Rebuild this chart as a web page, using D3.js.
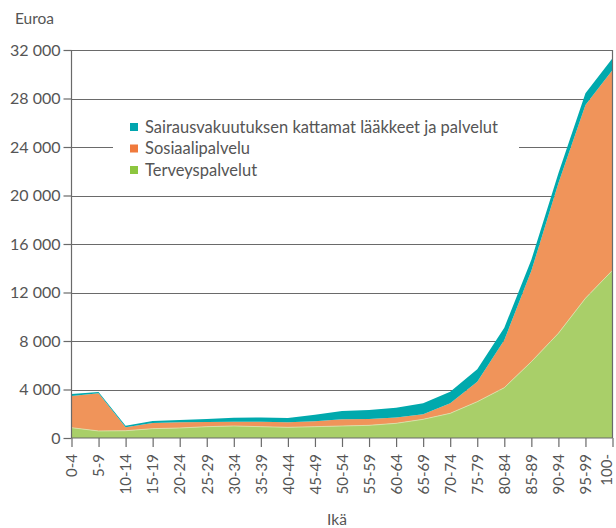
<!DOCTYPE html>
<html><head><meta charset="utf-8">
<script src="https://cdn.jsdelivr.net/npm/d3@7"></script>
<style>body{margin:0;background:#fff}svg{display:block}text{font-family:Lato,"Open Sans",sans-serif;fill:#555}</style>
</head><body><svg id="c" width="616" height="528"></svg>
<script>
const categories = ["0-4","5-9","10-14","15-19","20-24","25-29","30-34","35-39","40-44","45-49","50-54","55-59","60-64","65-69","70-74","75-79","80-84","85-89","90-94","95-99","100-"];
const terveys = [850,580,600,770,825,935,990,935,880,935,990,1045,1210,1540,2035,2995,4150,6295,8635,11525,13830];
const sosiaali = [2615,3110,280,470,465,385,360,415,410,440,550,525,490,410,825,1650,3935,7500,12375,15945,16530];
const sairaus = [165,105,135,160,195,250,330,350,360,550,690,740,800,910,960,1020,1015,900,825,970,965];
const yTicks = [0,4000,8000,12000,16000,20000,24000,28000,32000];
const seriesNames = ["Terveyspalvelut","Sosiaalipalvelu","Sairausvakuutuksen kattamat lääkkeet ja palvelut"];
const areaColors = ["#a9cf69","#f0945a","#00a9ad"];
const legendColors = ["#8dc63f","#f07a3c","#00a5ae"];

const svg = d3.select("#c");
const L=71.5, R=612.5, T=50, B=438;
const x = d3.scalePoint().domain(categories).range([L,R]);
const y = d3.scaleLinear().domain([0,32000]).range([B,T]);

// gridlines
svg.append("g").selectAll("line").data(yTicks.slice(1)).join("line")
  .attr("x1",L).attr("x2",R).attr("y1",d=>Math.round(y(d))+0.5).attr("y2",d=>Math.round(y(d))+0.5)
  .attr("stroke","#6a6a6a").attr("stroke-width",1.2);

const rows = categories.map((c,i)=>({cat:c, t:terveys[i], s:sosiaali[i], k:sairaus[i]}));
const stack = d3.stack().keys(["t","s","k"])(rows);
const area = d3.area().x(d=>x(d.data.cat)).y0(d=>y(d[0])).y1(d=>y(d[1]));
svg.append("g").selectAll("path").data(stack).join("path")
  .attr("d",area).attr("fill",(d,i)=>areaColors[i]);
// light seam between green and orange
svg.append("path").attr("d",d3.line().x(d=>x(d.data.cat)).y(d=>y(d[1]))(stack[0]))
  .attr("fill","none").attr("stroke","#d8e6b0").attr("stroke-width",0.8);

// frame right
svg.append("line").attr("x1",R).attr("x2",R).attr("y1",T).attr("y2",B).attr("stroke","#6a6a6a").attr("stroke-width",1.2);

// legend box
const lg = svg.append("g");
lg.append("rect").attr("x",113).attr("y",110).attr("width",406).attr("height",72).attr("fill","#fff");
const legendOrder=[2,1,0];
legendOrder.forEach((si,j)=>{
  const yy=127+j*21.5;
  lg.append("rect").attr("x",130).attr("y",yy-4).attr("width",8).attr("height",8).attr("fill",legendColors[si]);
  lg.append("text").attr("x",145).attr("y",yy).attr("dy","0.35em").attr("font-size",16.5).text(seriesNames[si]);
});

// axes
const yAxis = d3.axisLeft(y).tickValues(yTicks).tickSize(8).tickPadding(3);
const gy = svg.append("g").attr("transform",`translate(${L},0)`).call(yAxis);
gy.select(".domain").attr("stroke","#6a6a6a").attr("stroke-width",1.2).attr("d",`M0,${T}V${B}`);
gy.selectAll(".tick line").attr("stroke","#6a6a6a").attr("stroke-width",1.2).attr("x1",-8).attr("x2",0);
gy.selectAll("text").attr("font-size",16).attr("font-family","Lato,'Open Sans',sans-serif").style("fill","#555").text(d=>d3.format(",")(d).replace(/,/g," "));

const xAxis = d3.axisBottom(x).tickSize(9).tickPadding(4);
const gx = svg.append("g").attr("transform",`translate(0,${B})`).call(xAxis);
gx.select(".domain").attr("stroke","#6a6a6a").attr("stroke-width",1.2).attr("d",`M${L},0H${R}`);
gx.selectAll(".tick line").attr("stroke","#6a6a6a").attr("stroke-width",1.2);
gx.selectAll("text").attr("font-size",15).attr("font-family","Lato,'Open Sans',sans-serif").style("fill","#555")
  .attr("transform","rotate(-90)").attr("text-anchor","end").attr("x",-16)
  .attr("y",(d,i)=> i===categories.length-1 ? -6 : 0).attr("dy","0.35em");

svg.append("text").attr("x",15).attr("y",24).attr("font-size",15.5).text("Euroa");
svg.append("text").attr("x",337).attr("y",525).attr("text-anchor","middle").attr("font-size",15.5).text("Ikä");
</script></body></html>
